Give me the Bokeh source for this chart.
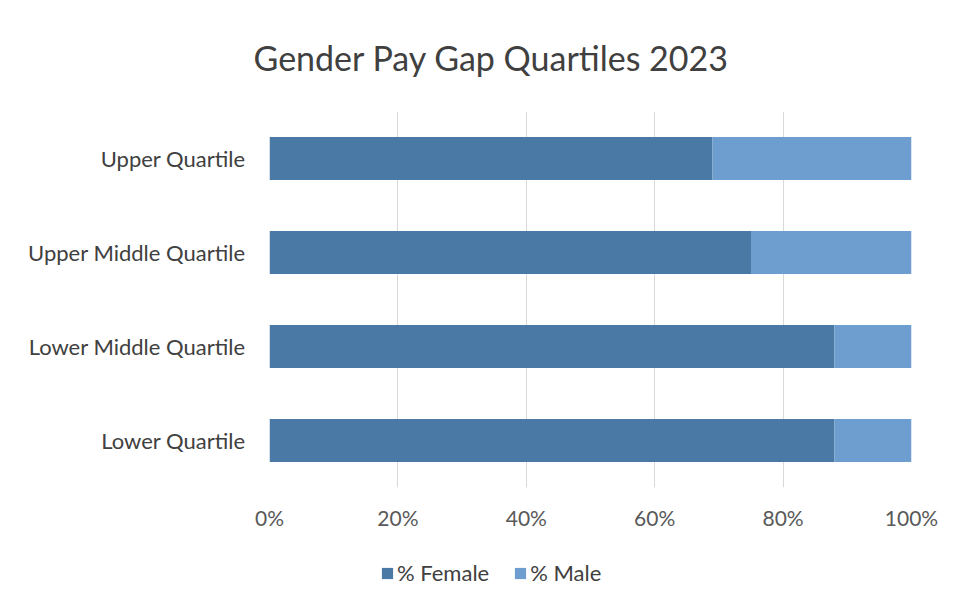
from bokeh.plotting import figure
from bokeh.layouts import column
from bokeh.models import ColumnDataSource, FactorRange, Legend, PrintfTickFormatter, FixedTicker
from bokeh.embed import file_html
from bokeh.resources import INLINE

quartiles = ["Lower Quartile", "Lower Middle Quartile", "Upper Middle Quartile", "Upper Quartile"]
female = [88, 88, 75, 69]
male = [12, 12, 25, 31]
series = ["female", "male"]
series_labels = ["% Female", "% Male"]
colors = ["#4a79a5", "#6d9ecf"]
x_ticks = [0, 20, 40, 60, 80, 100]

source = ColumnDataSource(dict(quartile=quartiles, female=female, male=male))

FONT = "Lato"
TEXT = "#404040"

p = figure(width=949, height=553, y_range=FactorRange(*quartiles, range_padding=0),
           x_range=(0, 100), output_backend="svg", toolbar_location=None,
           min_border_left=269, min_border_right=38, min_border_top=111, min_border_bottom=66)

p.hbar_stack(series, y="quartile", height=0.46, color=colors, line_color=None, source=source)

p.title.text = "Gender Pay Gap Quartiles 2023"
p.title.text_font = FONT
p.title.text_font_size = "34px"
p.title.text_font_style = "normal"
p.title.text_color = TEXT
p.title.align = "left"
p.title.offset = -16
p.title.standoff = 67

p.xaxis.ticker = FixedTicker(ticks=x_ticks)
p.xaxis.formatter = PrintfTickFormatter(format="%d%%")
for ax in (p.xaxis[0], p.yaxis[0]):
    ax.axis_line_color = None
    ax.major_tick_line_color = None
    ax.minor_tick_line_color = None
    ax.major_label_text_font = FONT
    ax.major_label_text_font_size = "21px"
    ax.major_label_text_color = "#595959"
p.xaxis.major_label_standoff = 11
p.yaxis.major_label_standoff = 18
p.yaxis.major_label_text_font_size = "22px"
p.yaxis.major_label_text_color = TEXT

p.ygrid.grid_line_color = None
p.xgrid.grid_line_color = "#d9d9d9"
p.xgrid.grid_line_width = 1
p.outline_line_color = None
p.border_fill_color = "white"

# legend strip below the chart
lg = figure(width=949, height=45, y_range=FactorRange(*quartiles), x_range=(0, 100),
            output_backend="svg", toolbar_location=None, x_axis_type=None, y_axis_type=None,
            min_border=0)
lg_renderers = lg.hbar_stack(series, y="quartile", height=0.46, color=colors, line_color=None,
                             source=source, visible=False)
lg.grid.grid_line_color = None
lg.outline_line_color = None

legend = Legend(items=[(lab, [r]) for lab, r in zip(series_labels, lg_renderers)],
                orientation="horizontal", location=(111, 12))
legend.border_line_color = None
legend.background_fill_alpha = 0
legend.label_text_font = FONT
legend.label_text_font_size = "22px"
legend.label_text_color = TEXT
legend.glyph_width = 14
legend.glyph_height = 14
legend.spacing = 24
legend.label_standoff = 3
legend.padding = 5
legend.margin = 0
lg.add_layout(legend, "center")

layout = column(p, lg, spacing=0)
open("out.html", "w").write(file_html(layout, INLINE))
